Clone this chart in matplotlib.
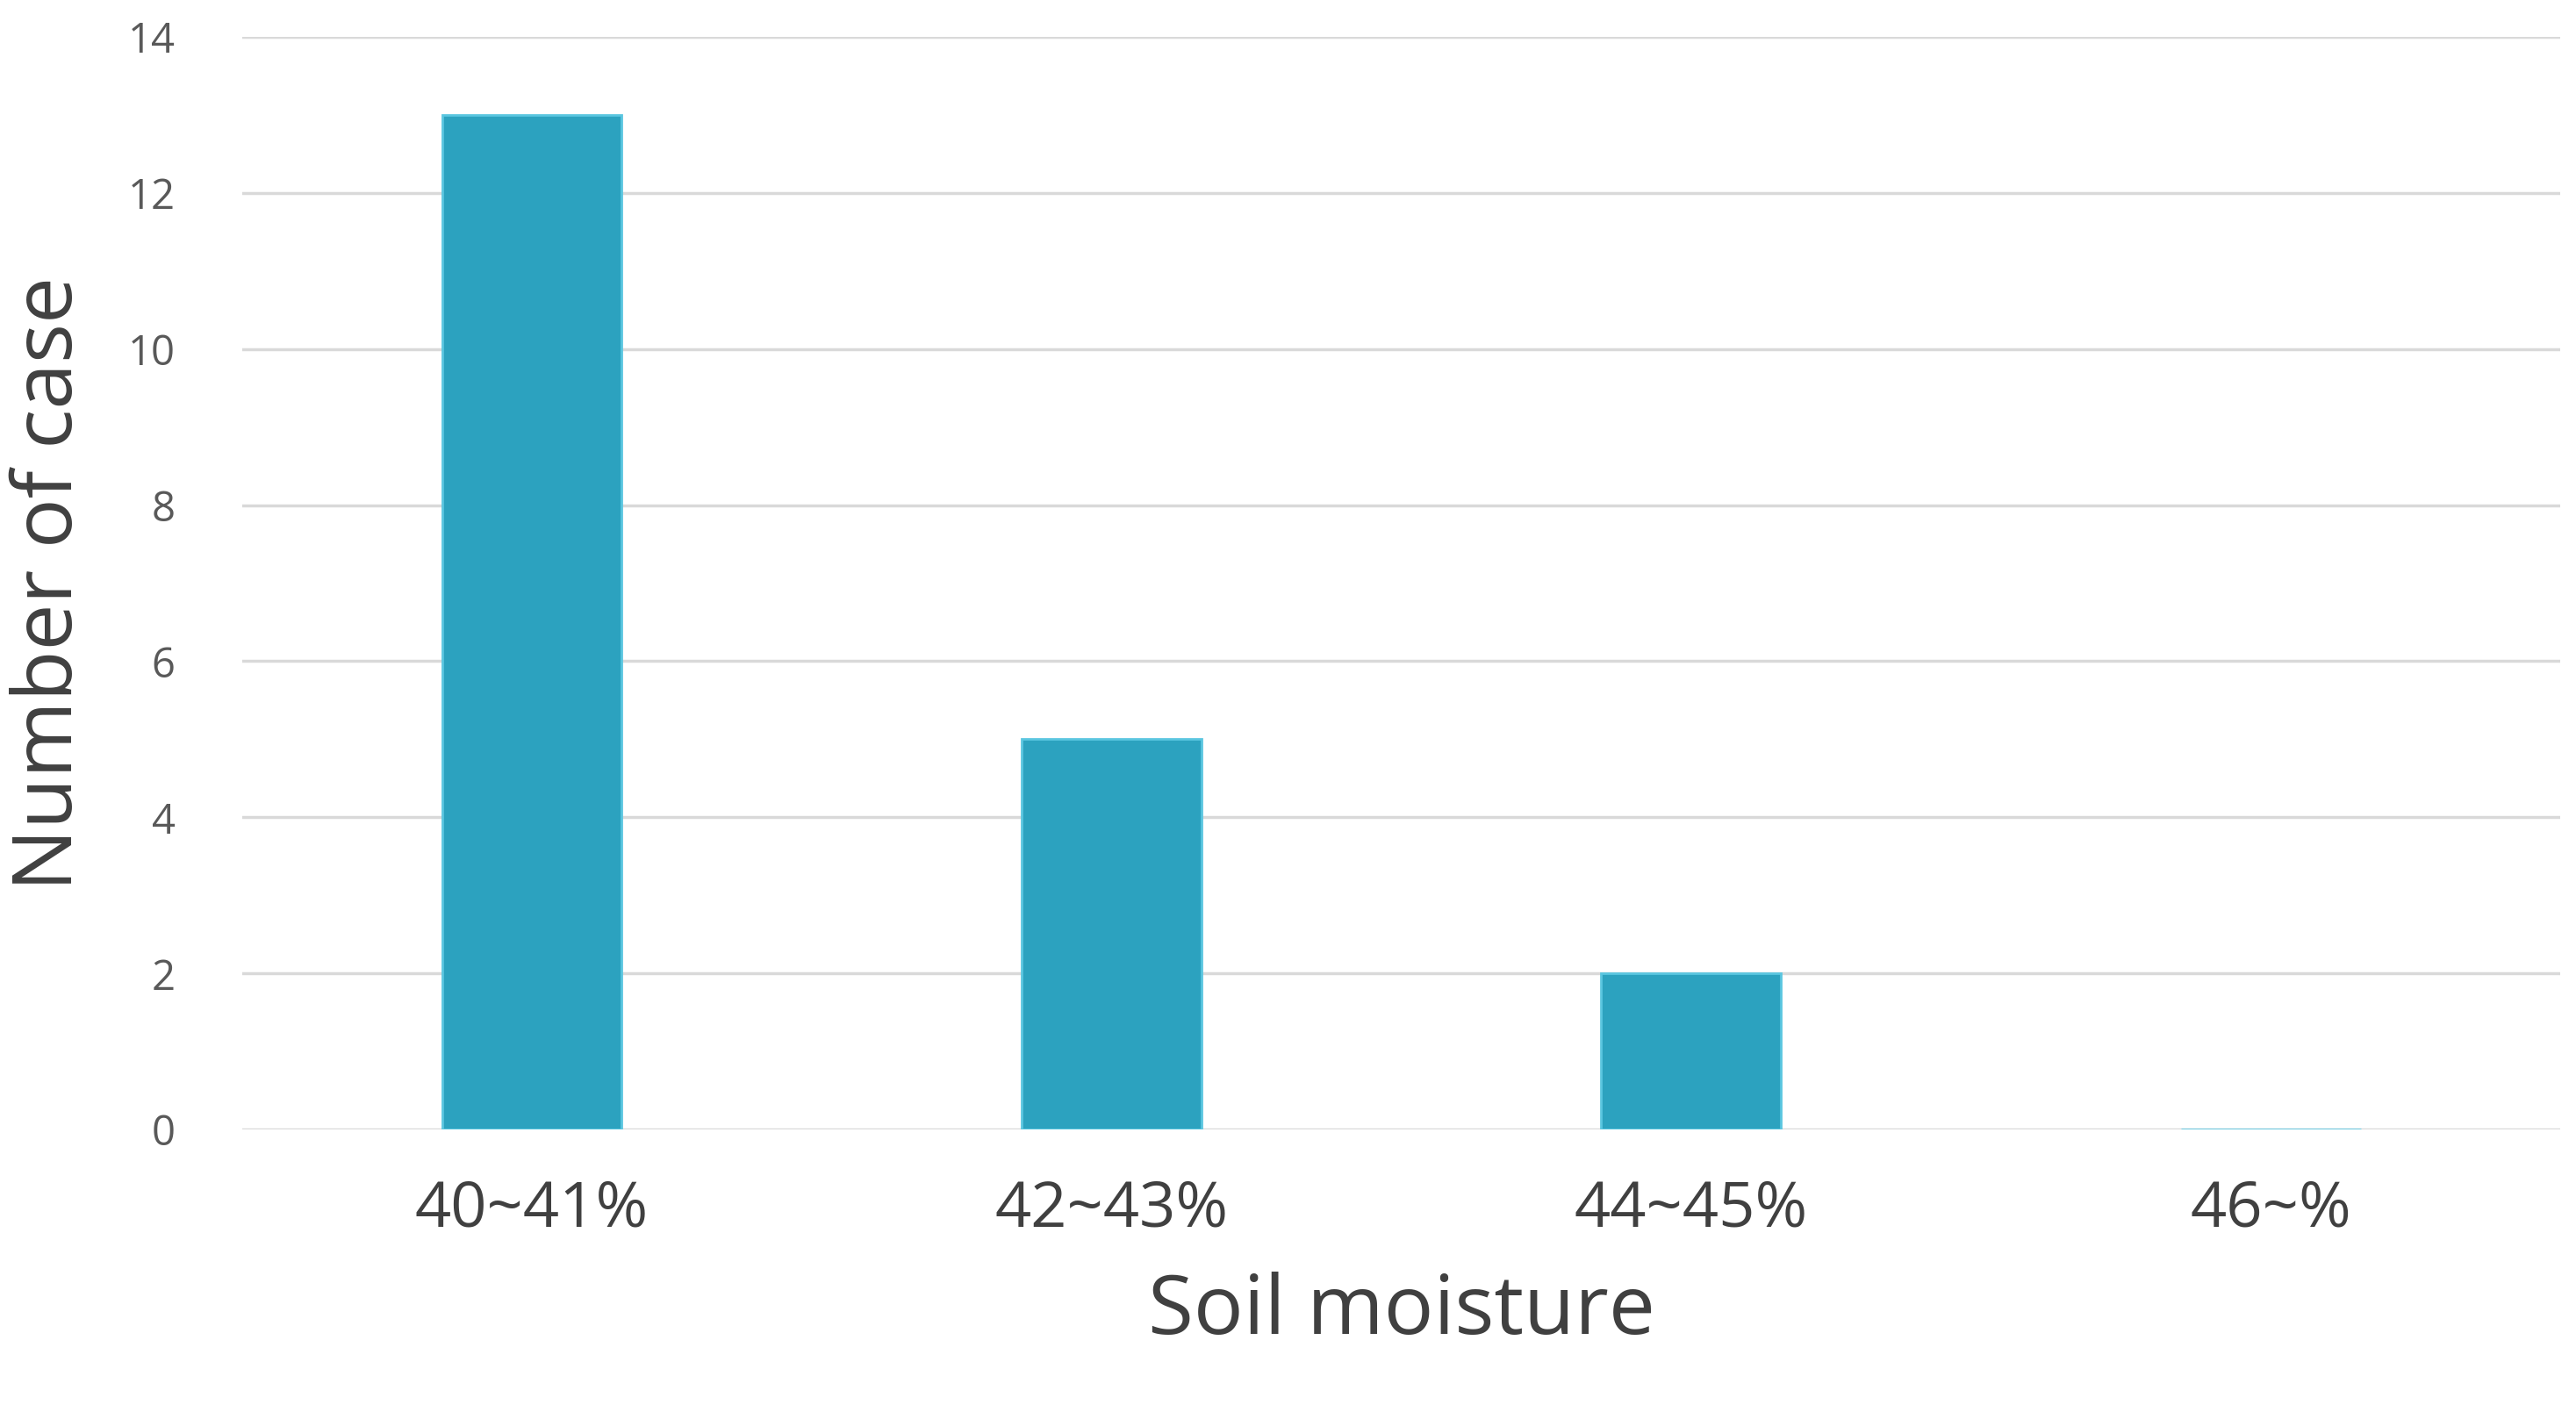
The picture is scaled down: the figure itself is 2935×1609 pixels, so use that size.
import matplotlib
matplotlib.use("Agg")
import matplotlib.pyplot as plt

categories = ["40~41%", "42~43%", "44~45%", "46~%"]
counts = [13, 5, 2, 0]
yticks = [0, 2, 4, 6, 8, 10, 12, 14]

plt.rcParams['font.family'] = ['Open Sans', 'DejaVu Sans']
fig = plt.figure(figsize=(29.35, 16.09), dpi=100)
ax = fig.add_axes([0.094, 0.2, 0.9, 0.774])
ax.bar(range(len(categories)), counts, width=0.31, color="#2CA2BF",
       edgecolor="#5BC6E0", linewidth=2, zorder=3)
ax.set_xlim(-0.5, len(categories) - 0.5)
ax.set_ylim(0, 14)
ax.set_yticks(yticks)
ax.set_xticks(range(len(categories)))
ax.set_xticklabels(categories, fontsize=52, color="#404040")
ax.tick_params(axis='y', labelsize=34, labelcolor="#595959", length=0, pad=55)
ax.tick_params(axis='x', length=0, pad=40)
ax.grid(axis='y', color="#D9D9D9", linewidth=2.5, zorder=0)
for s in ax.spines.values():
    s.set_visible(False)
ax.set_xlabel("Soil moisture", fontsize=68, color="#404040", labelpad=25)
ax.set_ylabel("Number of case", fontsize=68, color="#404040", labelpad=30)
fig.savefig("out.png", dpi=100)
